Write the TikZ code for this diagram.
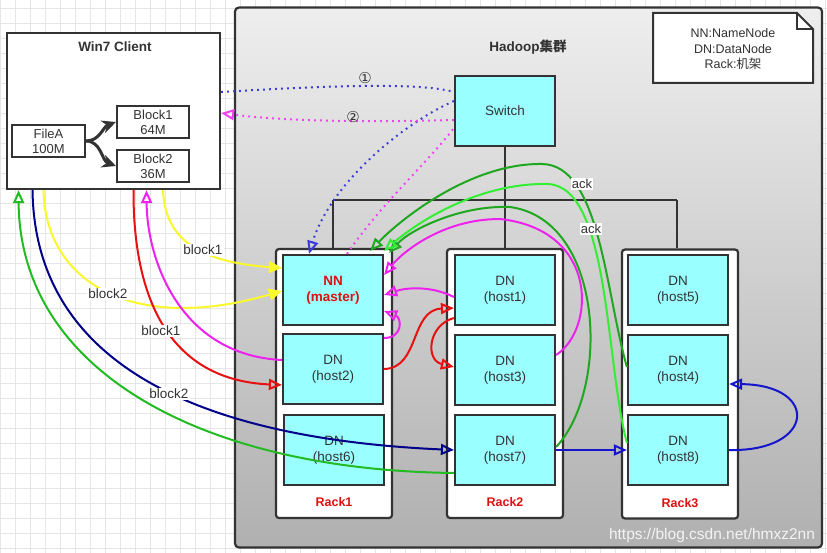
\documentclass[tikz,border=0pt]{standalone}
\usepackage{fontspec}
\setmainfont{Liberation Sans}
\newfontfamily\cjk{Noto Sans CJK SC}
\newfontfamily\djv{DejaVu Sans}
\usetikzlibrary{arrows.meta,calc}
\definecolor{dk}{HTML}{333333}
\definecolor{gridc}{HTML}{E6E6E6}
\definecolor{cyanf}{HTML}{99FFFF}
\definecolor{cltop}{HTML}{EEEEEE}
\definecolor{clbot}{HTML}{B0B0B0}
\definecolor{nnred}{HTML}{E01010}
\definecolor{cyel}{HTML}{F8F82A}
\definecolor{cred}{HTML}{E81010}
\definecolor{cmag}{HTML}{EE22EE}
\definecolor{cnavy}{HTML}{000088}
\definecolor{cgrn}{HTML}{22BB22}
\definecolor{cdgrn}{HTML}{1FA81F}
\definecolor{clgrn}{HTML}{33EE33}
\definecolor{cblu}{HTML}{1515CC}
\definecolor{cbdot}{HTML}{3A3ADD}
\definecolor{cmdot}{HTML}{EE44EE}
\newcommand\fsn{\fontsize{13.5}{16}\selectfont}
\newcommand\fsb{\fontsize{13}{15}\selectfont}
\begin{document}
\begin{tikzpicture}[x=1pt,y=-1pt,
  cbx/.style={draw=dk, line width=2.2pt, fill=cyanf, minimum width=100pt, minimum height=70pt, align=center, text=dk, font=\fsn, inner sep=0pt},
  wbox/.style={draw=dk, line width=2pt, fill=white, minimum width=73pt, minimum height=32pt, align=center, text=dk, font=\fsb, inner sep=0pt},
  rackbox/.style={draw=dk, line width=2.2pt, fill=white, rounded corners=3pt, minimum width=116pt, minimum height=269pt},
  racklbl/.style={text=nnred, font=\bfseries\fontsize{12.5}{14}\selectfont},
  bus/.style={draw=dk, line width=2pt},
  conn/.style={line width=2pt},
  oarr/.style={-{Triangle[open,length=13pt,width=11pt]}},
  yarr/.style={-{Triangle[length=13pt,width=12pt]}},
  dotline/.style={line width=2pt, dash pattern=on 1.8pt off 4.2pt},
  lbl/.style={fill=white, inner sep=1pt, text=dk, font=\fsn},
  thk/.style={draw=dk, line width=3pt, -{Stealth[length=14pt,width=13pt]}}
]
\useasboundingbox (0,0) rectangle (827,553);
\fill[white] (0,0) rectangle (827,553);
% grid
\foreach \gx in {0,15,...,825} \draw[gridc, line width=0.7pt] (\gx,0) -- (\gx,553);
\foreach \gy in {8,23,...,548} \draw[gridc, line width=0.7pt] (0,\gy) -- (827,\gy);

% client
\node[draw=dk, line width=2.2pt, fill=white, minimum width=213pt, minimum height=156pt] (client) at (113.5,111) {};
\node[text=dk, font=\bfseries\fsn] (ctitle) at (115,47) {Win7 Client};
\node[wbox] (fileA) at (48.5,141) {FileA\\100M};
\node[wbox, minimum width=72pt] (block1) at (153,122) {Block1\\64M};
\node[wbox, minimum width=72pt] (block2) at (153,166) {Block2\\36M};
\draw[thk] (fileA.east) to[out=0,in=200] (block1.west);
\draw[thk] (fileA.east) to[out=0,in=160] (block2.west);

% cluster
\node[draw=dk, line width=2.2pt, rounded corners=4pt, top color=cltop, bottom color=clbot, minimum width=587pt, minimum height=540pt] (cluster) at (528.5,277.5) {};
\node[text=dk, font=\bfseries\fsn] (ctitle2) at (528,47) {Hadoop{\cjk 集群}};

% legend note
\coordinate (lgNW) at (653,13);
\coordinate (lgSE) at (813,83);
\filldraw[draw=dk, line width=2pt, fill=white] (lgNW) -- ($(lgSE|-lgNW)+(-16,0)$) -- ($(lgSE|-lgNW)+(0,16)$) -- (lgSE) -- (lgNW|-lgSE) -- cycle;
\draw[dk, line width=1.5pt] ($(lgSE|-lgNW)+(-16,0)$) -- ($(lgSE|-lgNW)+(-16,16)$) -- ($(lgSE|-lgNW)+(0,16)$);
\node[text=dk, align=center, font=\fontsize{12.5}{15.5}\selectfont] (legend) at (733,49) {NN:NameNode\\DN:DataNode\\Rack:{\cjk 机架}};

% switch and racks
\node[cbx] (switch) at (505,111) {Switch};
\node[rackbox] (rack1) at (334,383.5) {};
\node[rackbox] (rack2) at (505,383.5) {};
\node[rackbox] (rack3) at (680,384) {};
\node[racklbl] at ([yshift=17pt]rack1.south) {Rack1};
\node[racklbl] at ([yshift=17pt]rack2.south) {Rack2};
\node[racklbl] at ([yshift=17pt]rack3.south) {Rack3};
\coordinate (busL) at (333,200);
\coordinate (busR) at (677,200);
\draw[bus] (switch.south) -- (switch.south |- busL);
\draw[bus] (busL) -- (busR);
\draw[bus] (busL) -- (busL |- rack1.north);
\draw[bus] (switch.south |- busL) -- (switch.south |- rack2.north);
\draw[bus] (busR) -- (busR |- rack3.north);

\node[cbx, text=nnred, font=\bfseries\fsn] (NN) at (333,290) {NN\\(master)};
\node[cbx] (host2) at (333,369) {DN\\(host2)};
\node[cbx] (host6) at (334,450) {DN\\(host6)};
\node[cbx] (host1) at (505,290) {DN\\(host1)};
\node[cbx] (host3) at (505,370) {DN\\(host3)};
\node[cbx] (host7) at (505,450) {DN\\(host7)};
\node[cbx] (host5) at (678,290) {DN\\(host5)};
\node[cbx] (host4) at (678,370) {DN\\(host4)};
\node[cbx] (host8) at (678,450) {DN\\(host8)};

% dotted request lines
\draw[cbdot, dotline] ([yshift=19pt]client.east) .. controls (320,86) and (420,82) .. ([yshift=19pt]switch.west);
\draw[cbdot, dotline, oarr] ([yshift=10pt]switch.west) .. controls (400,125) and (330,185) .. ([xshift=-24pt]NN.north);
\draw[cmdot, dotline] ([xshift=14pt]NN.north) .. controls (380,205) and (430,160) .. ([yshift=-17pt]switch.west);
\draw[cmdot, dotline, oarr] ([yshift=-9pt]switch.west) .. controls (380,122) and (290,122) .. ([yshift=-2pt]client.east);
\node[text=dk, font=\djv\fontsize{15}{16}\selectfont] (n1) at (365,78) {①};
\node[text=dk, font=\djv\fontsize{15}{16}\selectfont] (n2) at (353,117) {②};

% client <-> cluster
\draw[cyel, conn, yarr] ([xshift=49.5pt]client.south) .. controls (165,240) and (200,262) .. ([yshift=22pt]NN.west);
\draw[cyel, conn, yarr] ([xshift=-70pt]client.south) .. controls (45,280) and (130,335) .. ([yshift=-1pt]NN.west);
\draw[cred, conn, oarr] ([xshift=20pt]client.south) .. controls (133,300) and (170,380) .. ([yshift=-16pt]host2.west);
\draw[cmag, conn, oarr] ([yshift=9pt]host2.west) .. controls (180,355) and (147,260) .. ([xshift=33pt]client.south);
\draw[cnavy, conn, oarr] ([xshift=-81pt]client.south) .. controls (35,380) and (230,440) .. (host7.west);
\draw[cgrn, conn, oarr] ([yshift=-23pt]host7.west) .. controls (200,470) and (20,370) .. ([xshift=-95pt]client.south);
\node[lbl] (l1) at (203,250) {block1};
\node[lbl] (l2) at (108,294) {block2};
\node[lbl] (l3) at (161,331) {block1};
\node[lbl] (l4) at (169,394) {block2};

% pipeline
\draw[cred, conn, oarr] (host2.east) .. controls (420,368) and (410,310) .. ([yshift=-18pt]host1.west);
\draw[cred, conn, oarr] ([yshift=-28pt]host1.west) .. controls (428,325) and (425,360) .. ([yshift=3pt]host3.west);
\draw[cmag, conn, oarr] ([yshift=-7pt]host1.west) .. controls (430,285) and (405,288) .. ([yshift=-5pt]NN.east);
\draw[cmag, conn, oarr] ([yshift=31pt]host2.east) .. controls (403,338) and (402,318) .. ([yshift=-21pt]NN.east);
\draw[cmag, conn, oarr] ([yshift=15pt]host3.east) .. controls (595,330) and (600,230) .. (500,219) .. controls (440,219) and (400,255) .. ([yshift=15pt]NN.east);
\draw[cdgrn, conn, oarr] ([yshift=3pt]host7.east) .. controls (610,390) and (605,220) .. (510,207) .. controls (460,205) and (410,230) .. ([xshift=5pt,yshift=1pt]NN.north east);
\draw[clgrn, conn, oarr] ([yshift=7pt]host8.west) .. controls (605,360) and (610,185) .. (547,184) .. controls (480,183) and (420,220) .. ([yshift=3pt]NN.north east);
\draw[cdgrn, conn, oarr] ([yshift=3pt]host4.west) .. controls (605,290) and (600,165) .. (542,164) .. controls (470,163) and (400,220) .. ([xshift=-14pt,yshift=3pt]NN.north east);
\node[lbl, font=\fontsize{13}{15}\selectfont] (a1) at (582,184) {ack};
\node[lbl, font=\fontsize{13}{15}\selectfont] (a2) at (591,229) {ack};
\draw[cblu, conn, oarr] (host7.east) -- (host8.west);
\draw[cblu, conn, oarr] (host8.east) .. controls (815,452) and (820,385) .. ([yshift=-14pt]host4.east);

% watermark
\node[text=white, opacity=0.85, font=\fontsize{15.5}{18}\selectfont] (wm) at (712,535) {https://blog.csdn.net/hmxz2nn};
\end{tikzpicture}
\end{document}
